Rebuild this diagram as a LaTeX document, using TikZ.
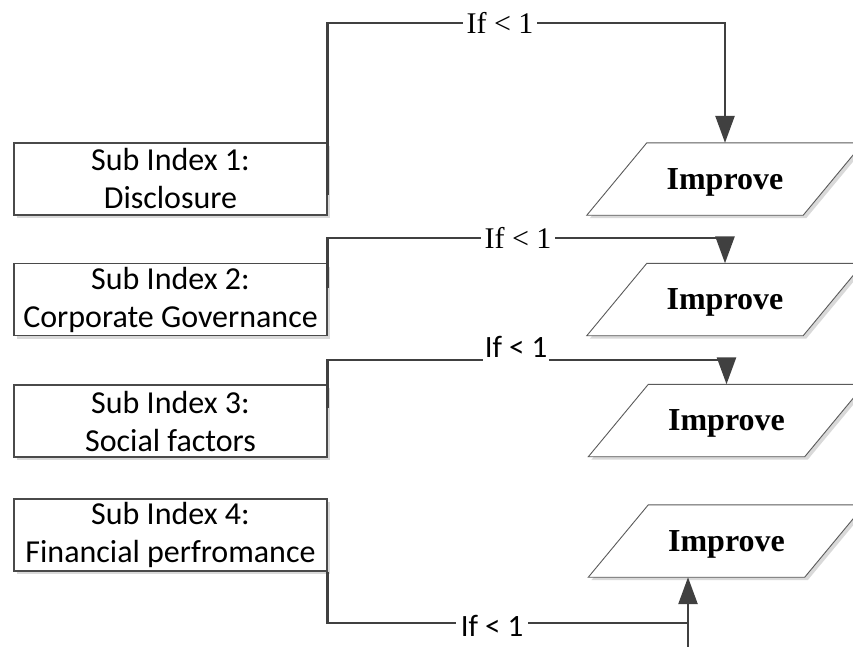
\documentclass[tikz,border=0pt]{standalone}
\usepackage{fontspec}
\setmainfont{Liberation Serif}
\newfontfamily\calib{Carlito}
\usetikzlibrary{arrows.meta,calc,shadows}
\pgfdeclarelayer{bg}
\pgfsetlayers{bg,main}
\definecolor{ln}{HTML}{404040}
\definecolor{bd}{HTML}{4A4A4A}
\definecolor{pb}{HTML}{5A5A5A}
\definecolor{sh}{HTML}{D9D9D9}
\tikzset{
 subbox/.style={draw=bd, line width=1.1pt, fill=white, minimum width=313pt, minimum height=72pt, inner sep=0pt, align=center, font=\calib\fontsize{32}{38}\selectfont, drop shadow={shadow xshift=3pt, shadow yshift=-3pt, fill=sh, opacity=1}},
 impnode/.style={minimum width=276pt, minimum height=72pt, inner sep=0pt, text depth=0pt, font=\bfseries\fontsize{32}{38}\selectfont},
 para/.style={draw=pb, line width=0.9pt, fill=white},
 conn/.style={draw=ln, line width=2.6pt},
 arr/.style={-{Triangle[length=27pt,width=19pt,fill=ln]}},
 seriflab/.style={fill=white, inner xsep=3.5pt, inner ysep=1pt, font=\fontsize{30}{36}\selectfont},
 sanslab/.style={fill=white, inner xsep=3pt, inner ysep=4pt, font=\calib\fontsize{31}{37}\selectfont, anchor=base},
}
\newcommand\parashape[1]{%
  \fill[sh] ($(#1.south west)+(3,3)$) -- ($(#1.south east)+(-57,3)$) -- ($(#1.north east)+(3,3)$) -- ($(#1.north west)+(63,3)$) -- cycle;
  \path[para] (#1.south west) -- ($(#1.south east)+(-60,0)$) -- (#1.north east) -- ($(#1.north west)+(60,0)$) -- cycle;}
\begin{document}
\begin{tikzpicture}[x=1pt,y=-1pt]
\useasboundingbox (0,0) rectangle (853,646);
\clip (0,0) rectangle (853,646);
% left boxes
\node[subbox] (b1) at (170.5,179) {Sub Index 1:\\Disclosure};
\node[subbox] (b2) at (170.5,299.5) {Sub Index 2:\\Corporate Governance};
\node[subbox] (b3) at (170.5,421) {Sub Index 3:\\Social factors};
\node[subbox] (b4) at (170.5,535) {Sub Index 4:\\Financial perfromance};
% improve nodes
\node[impnode] (imp1) at (725,179) {Improve};
\node[impnode] (imp2) at (725,299.5) {Improve};
\node[impnode] (imp3) at (726.5,420.5) {Improve};
\node[impnode] (imp4) at (726.5,541) {Improve};
\begin{pgfonlayer}{bg}
\parashape{imp1}
\parashape{imp2}
\parashape{imp3}
\parashape{imp4}
\end{pgfonlayer}
% connectors
\coordinate (t1) at (725,23);
\coordinate (t2) at (725,238);
\coordinate (t3) at (726.5,360);
\coordinate (c4) at (688,623);
\coordinate (c4b) at (688,670);
\draw[conn,arr] ([yshift=-16pt]b1.east) |- (t1) -- (imp1.north);
\draw[conn,arr] ([yshift=11.5pt]b2.east) |- (t2) -- (imp2.north);
\draw[conn,arr] ([yshift=13pt]b3.east) |- (t3) -- (imp3.north);
\draw[conn] (b4.south east) |- (c4);
\draw[conn,arr] (c4b) -- (imp4.south -| c4);
% labels
\node[seriflab] (l1) at (500,23) {If < 1};
\node[seriflab] (l2) at (518,238) {If < 1};
\node[sanslab, inner xsep=2pt] (l3) at (516,357) {If < 1};
\node[sanslab, inner xsep=5pt, inner ysep=2pt] (l4) at (492,636) {If < 1};
\end{tikzpicture}
\end{document}
